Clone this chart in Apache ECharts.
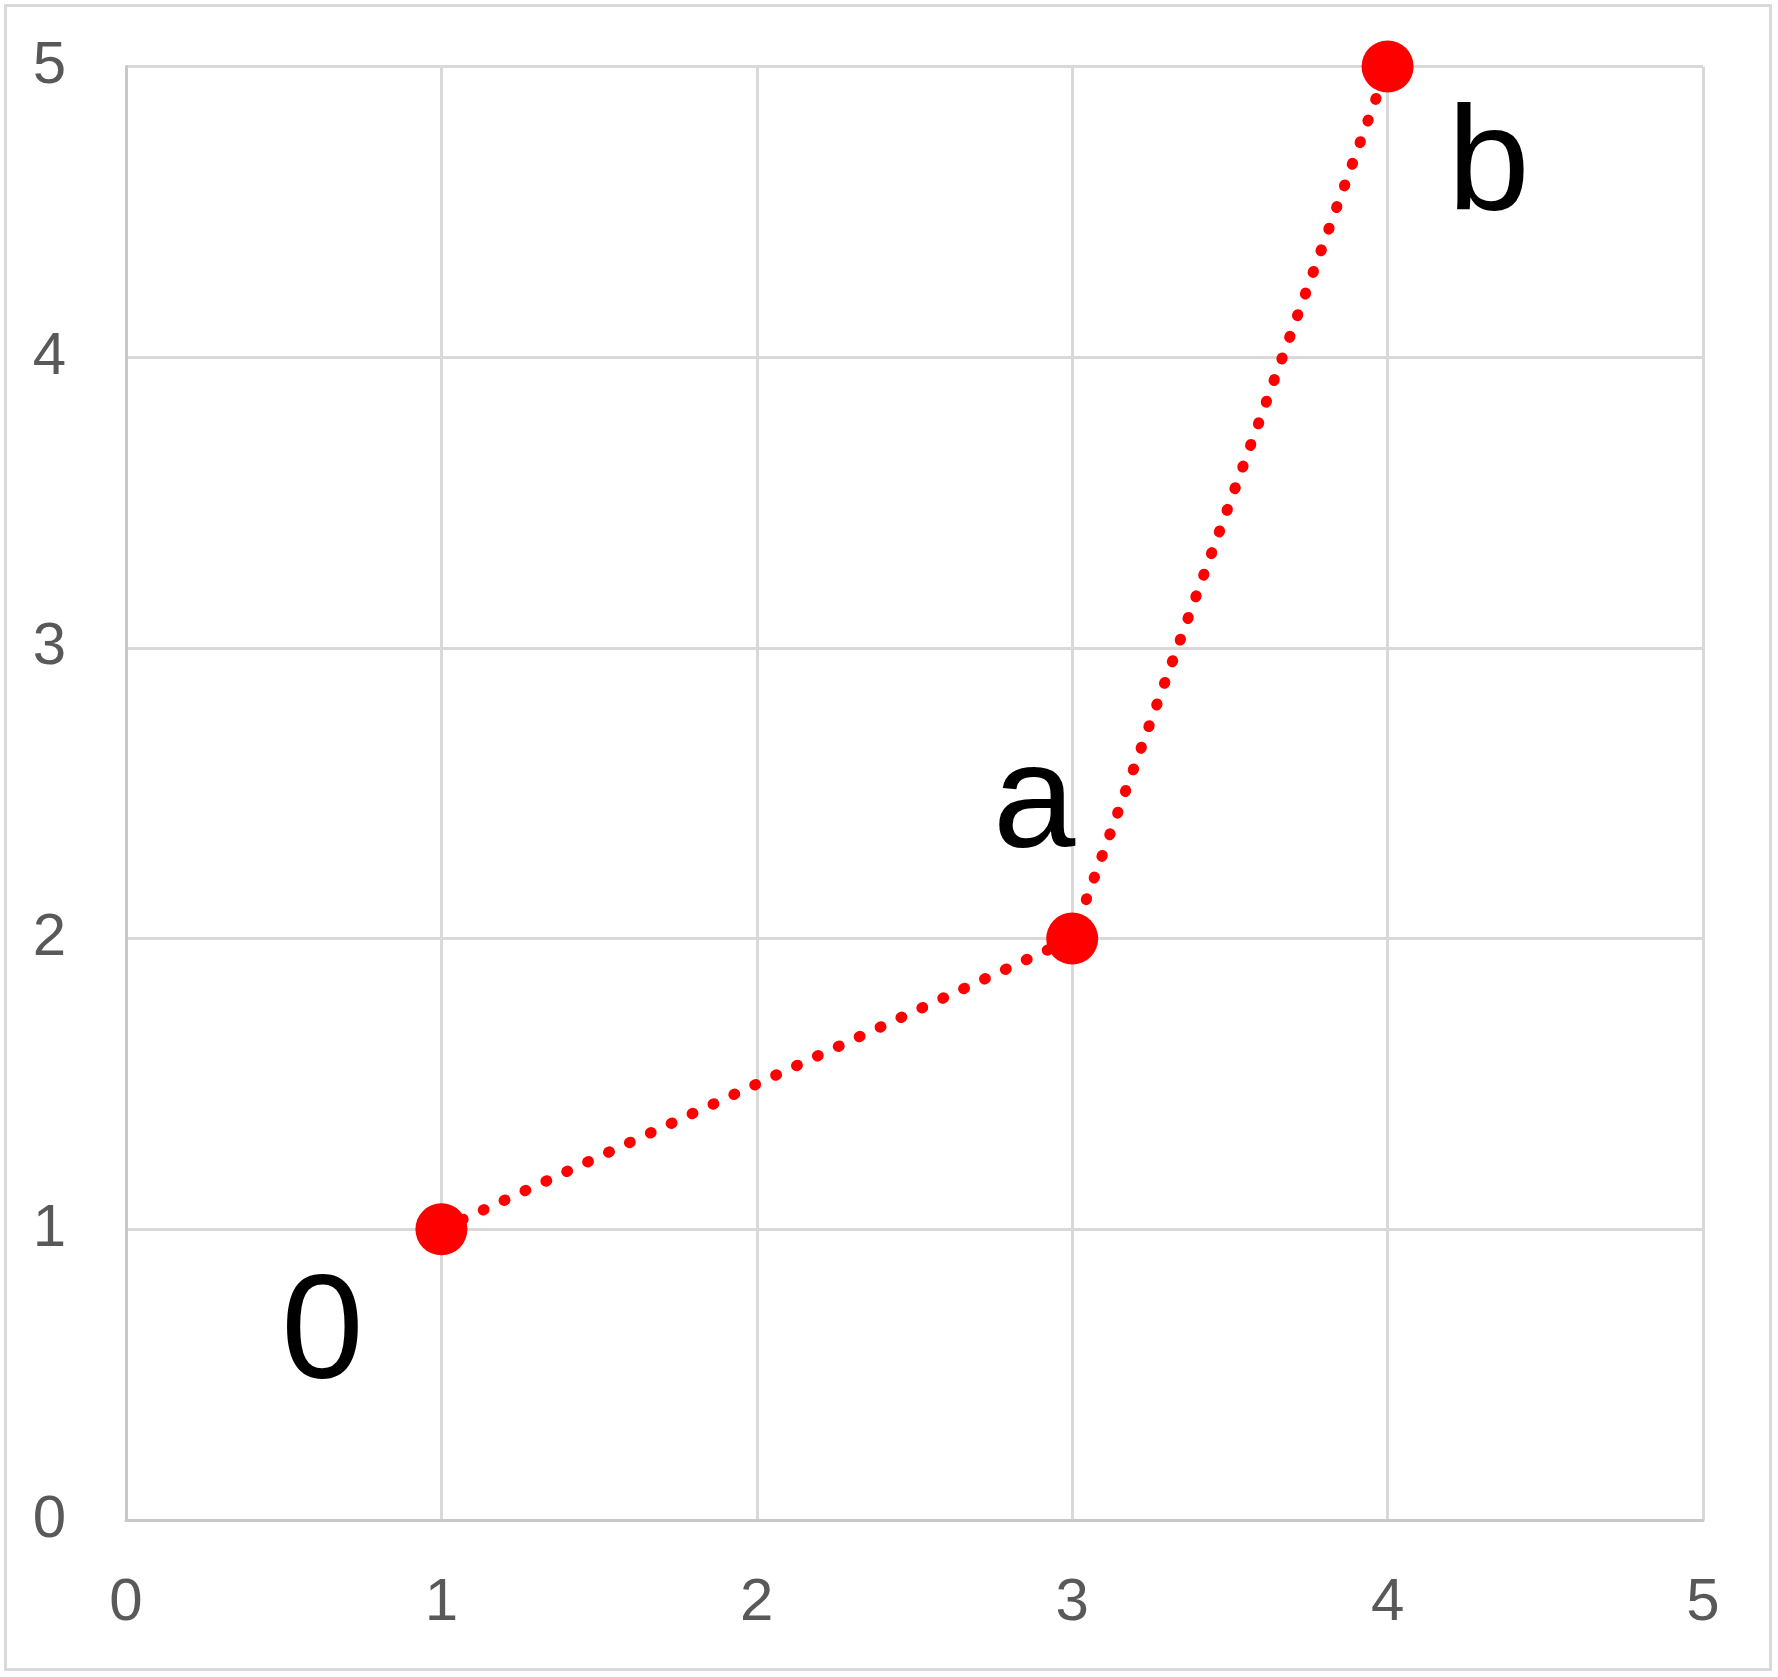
<!DOCTYPE html>
<html>
<head>
<meta charset="utf-8">
<script src="https://cdn.jsdelivr.net/npm/echarts@6/dist/echarts.min.js"></script>
<style>
html,body{margin:0;padding:0;background:#fff;}
#wrap{position:relative;width:1778px;height:1677px;}
#frame{position:absolute;left:4px;top:4px;width:1762px;height:1661px;border:3px solid #d9d9d9;box-sizing:content-box;pointer-events:none;}
#chart{position:absolute;left:0;top:0;width:1778px;height:1677px;}
</style>
</head>
<body>
<div id="wrap"><div id="chart"></div><div id="frame"></div></div>
<script>
const pointNames = ['0', 'a', 'b'];
const xValues = [1, 3, 4];
const yValues = [1, 2, 5];
const xTicks = [0, 1, 2, 3, 4, 5];
const yTicks = [0, 1, 2, 3, 4, 5];
const labelOffsets = [[-119, 108], [-38, -132], [101, 103]];

const chart = echarts.init(document.getElementById('chart'), null, {renderer: 'canvas'});
const font = '"Liberation Sans", Arial, sans-serif';
const data = xValues.map((x, i) => ({
  value: [x, yValues[i]],
  name: pointNames[i],
  label: {offset: labelOffsets[i]}
}));
chart.setOption({
  animation: false,
  backgroundColor: '#fff',
  grid: {left: 126, top: 66.5, right: 75, bottom: 157, containLabel: false},
  xAxis: {
    type: 'value', min: xTicks[0], max: xTicks[xTicks.length - 1], interval: 1,
    axisLine: {show: true, lineStyle: {color: '#c8c8c8', width: 3}},
    axisTick: {show: false},
    splitLine: {show: true, lineStyle: {color: '#d9d9d9', width: 3}},
    axisLabel: {color: '#595959', fontSize: 60, fontFamily: font, margin: 53}
  },
  yAxis: {
    type: 'value', min: yTicks[0], max: yTicks[yTicks.length - 1], interval: 1,
    axisLine: {show: true, lineStyle: {color: '#c8c8c8', width: 3}},
    axisTick: {show: false},
    splitLine: {show: true, lineStyle: {color: '#d9d9d9', width: 3}},
    axisLabel: {color: '#595959', fontSize: 60, fontFamily: font, margin: 60}
  },
  series: [{
    type: 'line',
    data: data,
    symbol: 'circle',
    symbolSize: 52,
    itemStyle: {color: '#ff0000'},
    lineStyle: {color: '#ff0000', width: 11, type: [1, 22], cap: 'round'},
    label: {
      show: true, position: 'inside', formatter: p => p.name,
      color: '#000', fontSize: 148, fontFamily: font,
      align: 'center', verticalAlign: 'middle'
    },
    z: 3
  }]
});
</script>
</body>
</html>
